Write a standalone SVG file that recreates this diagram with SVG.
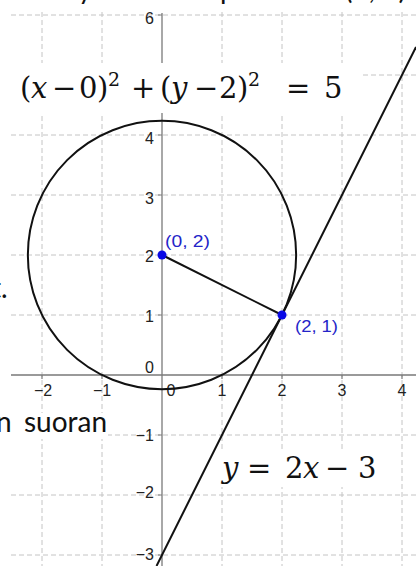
<svg xmlns="http://www.w3.org/2000/svg" width="416" height="566" viewBox="0 0 416 566">
<style>
.grid{stroke:#c4c4c4;stroke-width:1;stroke-dasharray:5,3;fill:none}
.axis{stroke:#7a7a7a;stroke-width:1.3;fill:none}
.tick{stroke:#7a7a7a;stroke-width:1.2}
.lab{font-family:"Liberation Sans",Arial,sans-serif;font-size:16px;fill:#222}
.ptlab{font-family:"Liberation Sans",Arial,sans-serif;font-size:16px;fill:#2424c8}
.curve{stroke:#111;stroke-width:2;fill:none}
.pt{fill:#0a0ae6}
.math{font-family:"DejaVu Serif","Liberation Serif",serif;fill:#111}
.slide{font-family:Lato,"Open Sans",sans-serif;font-size:28px;fill:#111}
.box{fill:#fff}
</style>
<rect width="416" height="566" fill="#fff"/>
<g id="grid">
<path class="grid" d="M42 12V566M102 12V566M222 12V566M282 12V566M342 12V566M402 12V566"/>
<path class="grid" d="M11 15H416M11 75H416M11 135H416M11 195H416M11 255H416M11 315H416M11 435H416M11 495H416M11 555H416"/>
</g>
<g id="axes">
<path class="axis" d="M11 375H416M162 13V566"/>
<path class="tick" d="M42 375v4M102 375v4M222 375v4M282 375v4M342 375v4M402 375v4M158 15h4M158 75h4M158 135h4M158 195h4M158 255h4M158 315h4M158 435h4M158 495h4M158 555h4"/>
</g>
<g id="text-boxes">
<rect class="box" x="11" y="63" width="349" height="50"/>
<rect class="box" x="220" y="451" width="158" height="36"/>
<rect class="box" x="0" y="413" width="108" height="26"/>
</g>
<g id="axis-labels" class="lab">
<text x="154" y="24" text-anchor="end">6</text>
<text x="154" y="144" text-anchor="end">4</text>
<text x="154" y="204" text-anchor="end">3</text>
<text x="154" y="262" text-anchor="end">2</text>
<text x="154" y="322" text-anchor="end">1</text>
<text x="154" y="373" text-anchor="end">0</text>
<text x="154" y="441" text-anchor="end">−1</text>
<text x="154" y="498" text-anchor="end">−2</text>
<text x="154" y="560" text-anchor="end">−3</text>
<text x="43" y="396" text-anchor="middle">−2</text>
<text x="102" y="396" text-anchor="middle">−1</text>
<text x="171" y="396" text-anchor="middle">0</text>
<text x="222" y="396" text-anchor="middle">1</text>
<text x="282" y="396" text-anchor="middle">2</text>
<text x="342" y="396" text-anchor="middle">3</text>
<text x="402" y="396" text-anchor="middle">4</text>
</g>
<g id="connectors">
<circle class="curve" cx="162" cy="255" r="134.16"/>
<path class="curve" d="M156.5 566L416 47"/>
<path class="curve" d="M162 255L282 315"/>
</g>
<g id="point-0-2">
<circle class="pt" cx="162" cy="255" r="4.5"/>
<text class="ptlab" x="165" y="247" textLength="45" lengthAdjust="spacingAndGlyphs">(0, 2)</text>
</g>
<g id="point-2-1">
<circle class="pt" cx="282" cy="315" r="4.5"/>
<text class="ptlab" x="295" y="332" textLength="43" lengthAdjust="spacingAndGlyphs">(2, 1)</text>
</g>
<g id="circle-equation" class="math">
<text font-size="29"><tspan x="20" y="98">(</tspan><tspan x="31" y="98" font-style="italic">x</tspan><tspan x="52" y="98">−</tspan><tspan x="79" y="98">0</tspan><tspan x="97" y="98">)</tspan><tspan x="108" y="86" font-size="19">2</tspan><tspan x="131" y="98">+</tspan><tspan x="160" y="98">(</tspan><tspan x="171" y="98" font-style="italic">y</tspan><tspan x="194" y="98">−</tspan><tspan x="219" y="98">2</tspan><tspan x="237" y="98">)</tspan><tspan x="248" y="86" font-size="19">2</tspan><tspan x="286" y="98">=</tspan><tspan x="324" y="98">5</tspan></text>
</g>
<g id="line-equation" class="math">
<text y="478" font-size="29"><tspan x="222" font-style="italic">y</tspan><tspan x="247">=</tspan><tspan x="285">2</tspan><tspan x="303" font-style="italic">x</tspan><tspan x="325">−</tspan><tspan x="358">3</tspan></text>
</g>
<g id="slide-text" class="slide">
<text y="-1"><tspan x="78">y</tspan><tspan x="220">p</tspan><tspan x="345">(2, 1)</tspan></text>
<text y="298"><tspan x="-9">t</tspan><tspan x="1">.</tspan></text>
<text y="432"><tspan x="-4">n</tspan><tspan x="24">suoran</tspan></text>
</g>
</svg>
